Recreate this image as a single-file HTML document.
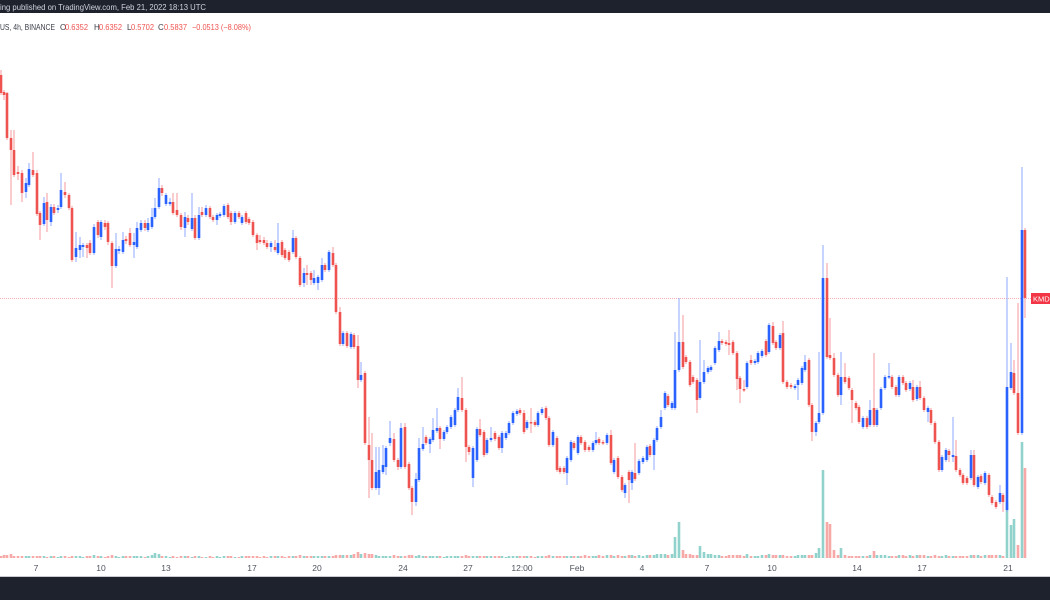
<!DOCTYPE html>
<html><head><meta charset="utf-8"><style>
html,body{margin:0;padding:0;background:#fff;width:1050px;height:600px;overflow:hidden}
svg{display:block}
text{font-family:"Liberation Sans",sans-serif}
</style></head><body>
<svg width="1050" height="600" viewBox="0 0 1050 600" xmlns="http://www.w3.org/2000/svg">
<rect x="0" y="0" width="1050" height="600" fill="#ffffff"/>
<rect x="0" y="0" width="1050" height="13" fill="#1e222d"/>
<text x="0" y="10" font-size="8" fill="#d1d4dc" textLength="206" lengthAdjust="spacingAndGlyphs">ing published on TradingView.com, Feb 21, 2022 18:13 UTC</text>
<g font-size="8">
<text x="0" y="30" fill="#3a3d47" textLength="55" lengthAdjust="spacingAndGlyphs">US, 4h, BINANCE</text>
<text x="60" y="30" fill="#3a3d47">O</text><text x="65" y="30" fill="#ef5350" textLength="23" lengthAdjust="spacingAndGlyphs">0.6352</text>
<text x="94" y="30" fill="#3a3d47">H</text><text x="99" y="30" fill="#ef5350" textLength="23" lengthAdjust="spacingAndGlyphs">0.6352</text>
<text x="127" y="30" fill="#3a3d47">L</text><text x="131" y="30" fill="#ef5350" textLength="23" lengthAdjust="spacingAndGlyphs">0.5702</text>
<text x="158" y="30" fill="#3a3d47">C</text><text x="164" y="30" fill="#ef5350" textLength="23" lengthAdjust="spacingAndGlyphs">0.5837</text>
<text x="192" y="30" fill="#ef5350" textLength="59" lengthAdjust="spacingAndGlyphs">−0.0513 (−8.08%)</text>
</g>
<!-- current price line -->
<line x1="0" y1="298.5" x2="1031" y2="298.5" stroke="#f23645" stroke-opacity="0.4" stroke-width="1" stroke-dasharray="1 1"/>
<!-- volume -->
<path fill="none" stroke="#f7a9a7" stroke-width="2.6" d="M1 558v-2M4 558v-3M7 558v-3M11 558v-4M14 558v-2M18 558v-2M22 558v-2M33 558v-2M37 558v-2M40 558v-2M47 558v-1M54 558v-2M65 558v-2M69 558v-1M72 558v-2M87 558v-2M90 558v-2M98 558v-2M105 558v-1M108 558v-2M112 558v-3M126 558v-2M130 558v-2M145 558v-1M162 558v-2M173 558v-2M177 558v-1M181 558v-2M188 558v-2M195 558v-2M202 558v-1M210 558v-2M213 558v-1M228 558v-2M231 558v-2M239 558v-1M246 558v-2M249 558v-2M253 558v-2M257 558v-2M260 558v-1M264 558v-2M267 558v-1M275 558v-2M282 558v-2M285 558v-1M289 558v-2M296 558v-2M300 558v-3M307 558v-2M311 558v-2M325 558v-2M333 558v-2M336 558v-3M340 558v-3M347 558v-3M354 558v-4M358 558v-6M365 558v-5M369 558v-4M372 558v-4M394 558v-3M398 558v-2M405 558v-2M409 558v-3M412 558v-3M426 558v-2M440 558v-2M462 558v-2M466 558v-3M469 558v-2M480 558v-2M484 558v-2M495 558v-2M499 558v-2M520 558v-2M524 558v-2M531 558v-2M535 558v-1M546 558v-2M549 558v-3M557 558v-2M560 558v-2M564 558v-2M574 558v-2M581 558v-2M585 558v-3M589 558v-2M599 558v-3M603 558v-2M611 558v-3M618 558v-3M622 558v-2M629 558v-3M635 558v-2M650 558v-3M668 558v-3M683 558v-8M686 558v-4M690 558v-4M693 558v-3M697 558v-3M722 558v-2M726 558v-2M729 558v-3M733 558v-3M737 558v-3M740 558v-3M744 558v-2M751 558v-2M766 558v-3M773 558v-3M776 558v-3M783 558v-3M787 558v-2M791 558v-2M809 558v-3M812 558v-3M827 558v-36M830 558v-34M834 558v-8M838 558v-3M845 558v-3M849 558v-2M852 558v-2M856 558v-2M859 558v-2M867 558v-2M874 558v-7M892 558v-2M896 558v-2M903 558v-3M906 558v-2M913 558v-2M920 558v-3M924 558v-3M931 558v-2M935 558v-3M939 558v-2M949 558v-2M956 558v-2M960 558v-2M963 558v-2M967 558v-2M974 558v-3M981 558v-2M989 558v-3M992 558v-3M996 558v-3M1003 558v-2M1018 558v-13M1025 558v-90"/>
<path fill="none" stroke="#92d2cc" stroke-width="2.6" d="M26 558v-2M29 558v-2M44 558v-2M51 558v-2M58 558v-1M61 558v-2M76 558v-2M80 558v-2M83 558v-1M94 558v-3M101 558v-2M116 558v-2M119 558v-1M123 558v-2M134 558v-2M137 558v-2M141 558v-2M148 558v-2M152 558v-3M155 558v-5M159 558v-4M166 558v-2M170 558v-1M185 558v-2M192 558v-1M199 558v-2M206 558v-1M217 558v-2M220 558v-1M224 558v-2M235 558v-1M242 558v-2M271 558v-2M278 558v-2M293 558v-2M304 558v-2M314 558v-2M318 558v-2M322 558v-2M329 558v-2M343 558v-3M351 558v-3M361 558v-4M376 558v-3M379 558v-2M383 558v-2M386 558v-2M390 558v-2M401 558v-2M416 558v-2M419 558v-3M423 558v-2M430 558v-2M433 558v-2M437 558v-2M444 558v-1M447 558v-2M451 558v-2M455 558v-2M458 558v-2M473 558v-2M477 558v-2M487 558v-2M491 558v-2M502 558v-2M506 558v-1M509 558v-2M513 558v-2M517 558v-2M527 558v-2M538 558v-2M542 558v-2M553 558v-2M567 558v-2M571 558v-2M578 558v-2M593 558v-2M596 558v-2M607 558v-3M614 558v-2M625 558v-2M632 558v-3M639 558v-3M643 558v-2M647 558v-3M654 558v-3M657 558v-4M661 558v-4M665 558v-4M672 558v-4M675 558v-21M679 558v-36M700 558v-12M704 558v-6M708 558v-4M711 558v-4M715 558v-3M719 558v-3M747 558v-4M755 558v-2M758 558v-2M762 558v-3M769 558v-4M780 558v-3M795 558v-2M798 558v-3M802 558v-3M805 558v-3M816 558v-5M819 558v-10M823 558v-88M841 558v-10M863 558v-2M870 558v-3M877 558v-3M881 558v-3M885 558v-3M889 558v-2M899 558v-3M910 558v-3M917 558v-3M928 558v-2M942 558v-2M946 558v-3M953 558v-2M971 558v-3M978 558v-3M985 558v-3M1000 558v-3M1007 558v-56M1011 558v-33M1014 558v-39M1022 558v-116"/>
<!-- wicks -->
<path fill="none" stroke="#f59a9c" stroke-width="1" d="M1 70V95M4 90V100M7 92V140M11 130V205M14 130V177M18 166V180M22 170V202M33 152V177M37 170V216M40 211V240M47 193V232M54 204V215M65 182V198M69 193V210M72 206V262M87 243V258M90 240V255M98 220V238M105 220V230M108 221V245M112 241V288M126 236V244M130 228V247M145 220V231M162 185V196M173 193V215M177 193V217M181 213V230M188 215V225M195 215V240M202 207V217M210 206V219M213 215V222M228 203V219M231 211V225M239 211V219M246 211V224M249 217V225M253 220V237M257 233V250M260 235V244M264 237V245M267 240V249M275 240V252M282 240V257M285 248V260M289 250V262M296 236V259M300 256V287M307 265V285M311 271V285M325 263V272M333 247V267M336 263V314M340 307V346M347 331V348M354 333V349M358 335V388M365 371V445M369 417V498M372 433V490M394 433V462M398 458V470M405 423V469M409 462V490M412 486V515M426 435V445M440 426V449M462 377V412M466 408V462M469 445V455M480 419V437M484 430V457M495 431V441M499 435V450M520 408V415M524 410V434M531 408V433M535 420V427M546 406V420M549 416V447M557 436V472M560 466V474M564 466V474M574 441V450M581 435V445M585 440V452M589 445V452M599 437V445M603 440V445M611 430V465M618 456V479M622 475V492M629 470V503M635 443V481M650 444V457M668 394V407M683 315V369M686 355V364M690 360V387M693 375V384M697 378V413M722 339V345M726 340V346M729 330V355M733 340V355M737 351V390M740 376V403M744 380V392M751 355V365M766 339V357M773 322V345M776 340V350M783 321V384M787 380V389M791 383V389M809 358V407M812 403V441M827 263V359M830 318V360M834 353V377M838 373V397M845 363V384M849 376V390M852 388V423M856 401V410M859 405V424M867 416V429M874 353V427M892 375V389M896 385V397M903 375V385M906 381V392M913 380V402M920 381V400M924 396V412M931 408V425M935 421V444M939 440V472M949 449V462M956 440V472M960 468V477M963 473V485M967 476V485M974 450V487M981 474V484M989 473V497M992 495V505M996 500V509M1003 493V512M1014 360V395M1018 303V435M1025 228V318"/>
<path fill="none" stroke="#8fa9ff" stroke-width="1" d="M26 178V198M29 163V187M44 197V226M51 204V226M58 205V213M61 173V209M76 232V262M80 237V258M83 243V257M94 224V255M101 220V240M116 233V268M119 246V254M123 232V254M134 233V258M137 222V249M141 220V232M148 218V232M152 208V229M155 198V219M159 178V209M166 193V206M170 198V206M185 212V237M192 193V231M199 207V240M206 205V217M217 213V225M220 212V218M224 204V217M235 211V224M242 215V225M271 241V252M278 223V255M293 230V254M304 268V287M314 270V285M318 275V290M322 258V282M329 250V272M343 331V346M351 332V349M361 362V382M376 447V490M379 447V495M383 445V474M386 446V475M390 421V446M401 423V469M416 473V506M419 438V482M423 427V451M430 437V453M433 418V442M437 408V433M444 430V441M447 425V434M451 415V429M455 408V427M458 388V412M473 446V487M477 427V462M487 438V455M491 427V442M502 431V453M506 431V440M509 421V435M513 411V425M517 409V416M527 420V430M538 411V427M542 407V415M553 430V447M567 456V485M571 440V462M578 435V455M593 441V452M596 432V445M607 433V445M614 458V474M625 483V498M632 470V490M639 459V475M643 456V464M647 445V462M654 438V470M657 426V442M661 410V429M665 391V410M672 401V410M675 332V410M679 298V372M700 340V400M704 360V384M708 366V374M711 365V372M715 346V365M719 332V352M747 361V389M755 359V365M758 351V364M762 349V358M769 323V354M780 333V350M795 384V390M798 378V400M802 366V385M805 355V372M816 421V436M819 352V424M823 245V415M841 352V405M863 416V429M870 400V427M877 408V427M881 387V410M885 375V390M889 363V379M899 375V397M910 381V391M917 385V401M928 406V422M942 455V472M946 448V462M953 417V462M971 450V480M978 475V489M985 471V485M1000 485V504M1007 277V512M1011 343V390M1022 167V435"/>
<!-- bodies -->
<path fill="none" stroke="#ef5350" stroke-width="2.6" d="M1 75V93M4 92V95M7 93V138M11 138V150M14 150V175M18 172V174M22 173V193M33 170V175M37 173V214M40 213V225M47 202V220M54 207V213M65 192V195M69 195V208M72 208V260M87 245V248M90 243V253M98 222V235M105 223V227M108 223V242M112 243V266M126 239V241M130 233V245M145 223V228M162 188V193M173 202V213M177 210V215M181 215V227M188 218V222M195 218V238M202 212V215M210 208V217M213 217V220M228 205V217M231 213V222M239 213V217M246 213V222M249 219V223M253 222V235M257 235V243M260 240V242M264 240V243M267 243V247M275 247V250M282 242V255M285 250V258M289 252V260M296 238V257M300 258V285M307 273V275M311 273V280M325 265V270M333 253V265M336 265V312M340 312V344M347 333V346M354 335V347M358 346V380M365 373V443M369 445V460M372 460V488M394 439V460M398 460V467M405 427V467M409 464V488M412 488V502M426 437V443M440 428V439M462 398V410M466 410V447M469 447V452M480 429V435M484 432V455M495 433V439M499 437V448M520 410V413M524 413V432M531 422V423.5M535 422V425M546 408V418M549 418V445M557 438V470M560 468V472M564 468V472M574 443V448M581 437V443M585 442V450M589 447V450M599 439V443M603 442V443.5M611 435V463M618 458V477M622 477V490M629 472V480M635 473V479M650 446V455M668 396V405M683 342V367M686 357V362M690 362V385M693 377V382M697 380V400M722 341V343M726 342V344M729 343V345M733 342V353M737 353V379M740 378V389M744 389V390.5M751 360V363M766 341V355M773 326V343M776 342V348M783 333V382M787 382V387M791 385V387M809 360V405M812 405V432M827 278V357M830 355V358M834 358V375M838 375V395M845 377V382M849 378V388M852 390V400M856 403V408M859 407V422M867 418V427M874 408V425M892 377V387M896 387V395M903 377V383M906 383V390M913 387V400M920 387V398M924 398V410M931 410V423M935 423V442M939 442V470M949 451V455M956 456V470M960 470V475M963 475V483M967 478V483M974 455V485M981 476V482M989 475V495M992 497V503M996 502V507M1003 495V502M1014 373V393M1018 393V433M1025 230V298"/>
<path fill="none" stroke="#2962ff" stroke-width="2.6" d="M26 183V192M29 169V185M44 203V224M51 207V222M58 208V210M61 190V207M76 248V257M80 245V250M83 245V247M94 227V253M101 222V237M116 249V266M119 249V251M123 240V252M134 242V245M137 228V247M141 223V230M148 223V230M152 217V227M155 208V217M159 188V207M166 195V204M170 202V204M185 217V228M192 218V229M199 215V238M206 208V215M217 215V220M220 214V216M224 206V215M235 213V222M242 217V223M271 243V247M278 243V253M293 238V252M304 273V283M314 278V283M318 277V283M322 265V280M329 252V270M343 333V344M351 334V347M361 375V380M376 472V488M379 470V488M383 465V472M386 448V467M390 438V443M401 428V467M416 479V502M419 448V480M423 444V449M430 439V444M433 430V440M437 428V431M444 432V439M447 427V432M451 417V427M455 410V425M458 397V410M473 448V478M477 429V460M487 440V453M491 438V440M502 433V448M506 433V438M509 423V433M513 413V423M517 411V414M527 422V428M538 413V425M542 409V413M553 432V445M567 458V473M571 442V460M578 437V453M593 443V450M596 440V443M607 435V443M614 460V472M625 485V493M632 472V483M639 461V473M643 458V462M647 447V460M654 440V455M657 428V440M661 417V427M665 393V408M672 403V408M675 370V408M679 342V370M700 382V398M704 372V382M708 368V372M711 367V370M715 348V363M719 341V350M747 363V387M755 361V363M758 353V362M762 351V356M769 325V352M780 335V348M795 386V388M798 380V385M802 368V383M805 362V370M816 423V432M819 413V422M823 278V413M841 377V395M863 418V427M870 410V425M877 410V425M881 389V408M885 377V388M889 376V377.5M899 377V395M910 383V389M917 387V399M928 408V412M942 457V470M946 450V460M953 455V457M971 455V478M978 477V487M985 473V483M1000 493V502M1007 387V510M1011 372V388M1022 230V433"/>
<!-- price label -->
<rect x="1031" y="293" width="19" height="11" fill="#f23645"/>
<text x="1033" y="301.5" font-size="7.5" fill="#ffffff">KMD</text>
<!-- time axis -->
<g font-size="8.5" fill="#50535e" text-anchor="middle">
<text x="36" y="571">7</text>
<text x="101" y="571">10</text>
<text x="166" y="571">13</text>
<text x="252" y="571">17</text>
<text x="317" y="571">20</text>
<text x="403" y="571">24</text>
<text x="468" y="571">27</text>
<text x="522" y="571">12:00</text>
<text x="577" y="571">Feb</text>
<text x="642" y="571">4</text>
<text x="707" y="571">7</text>
<text x="772" y="571">10</text>
<text x="857" y="571">14</text>
<text x="922" y="571">17</text>
<text x="1008" y="571">21</text>
</g>
<rect x="0" y="576" width="1050" height="1" fill="#c9cbd1"/>
<rect x="0" y="577" width="1050" height="23" fill="#1e222d"/>
</svg>
</body></html>
